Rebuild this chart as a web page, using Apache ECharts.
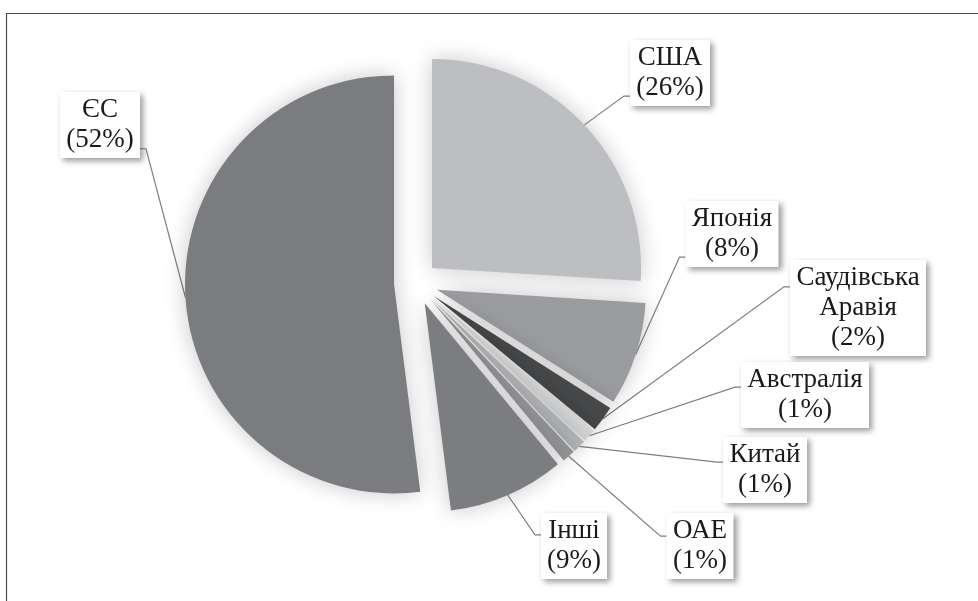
<!DOCTYPE html>
<html>
<head>
<meta charset="utf-8">
<script src="https://cdn.jsdelivr.net/npm/echarts@6/dist/echarts.min.js"></script>
<style>
  html, body { margin: 0; padding: 0; background: #fff; }
  #chart { width: 978px; height: 601px; }
</style>
</head>
<body>
<div id="chart"></div>
<script>
// дані
const names = ['США', 'Японія', 'Саудівська Аравія', 'Австралія', 'Китай', 'ОАЕ', 'Інші', 'ЄС']
const shares = [26, 8, 2, 1, 1, 1, 9, 52]
const colors = ['#bdbec1', '#9b9ca0', '#47484a', '#d6d7d9', '#b2b3b5', '#909194', '#7c7d81', '#7b7c80']

// центри підписів і точка кріплення лінії (частка висоти рамки)
const labelPos = [
  [670, 73], [732, 234], [858, 308], [805, 395],
  [765, 470], [700, 546], [574, 546], [100, 125]
]
const lineAttach = [0.85, 0.85, 0.28, 0.38, 0.38, 0.35, 0.33, 0.86]

const FONT_CSS = '27px "Liberation Serif"'
const cx = 416, cy = 283, R = 209, explode = 22
const total = shares.reduce((a, b) => a + b, 0)

function labelText(i) {
  const pct = Math.round(shares[i] / total * 100)
  return names[i].replace(' ', '\n') + '\n(' + pct + '%)'
}

// ширина тексту підпису шрифтом із засічками
const ctx = document.createElement('canvas').getContext('2d')
ctx.font = FONT_CSS
const textW = names.map((n, i) => Math.max(...labelText(i).split('\n').map((s) => ctx.measureText(s).width)))

const chart = echarts.init(document.getElementById('chart'))

// кожен сектор — окрема серія, щоб винести його від центру
let cum = 0
const series = shares.map((v, k) => {
  const mid = (90 - (cum + v / 2) / total * 360) * Math.PI / 180
  cum += v
  return {
    type: 'pie',
    center: [cx + explode * Math.cos(mid), cy - explode * Math.sin(mid)],
    radius: [0, R],
    startAngle: 90,
    clockwise: true,
    avoidLabelOverlap: false,
    emphasis: { disabled: true },
    silent: true,
    label: {
      show: true,
      position: 'outside',
      formatter: (p) => labelText(p.dataIndex),
      fontSize: 27,
      lineHeight: 30,
      color: 'rgba(0,0,0,0)',
      align: 'center',
      backgroundColor: '#fff',
      padding: [3, 6],
      shadowColor: 'rgba(0,0,0,0.4)',
      shadowBlur: 6,
      shadowOffsetX: 3,
      shadowOffsetY: 3
    },
    labelLine: {
      show: true,
      length: 10,
      length2: 10,
      lineStyle: { color: '#7f7f7f', width: 1.2 }
    },
    labelLayout: (params) => {
      const i = params.dataIndex
      const pos = labelPos[i]
      const out = { x: pos[0], y: pos[1], align: 'center', verticalAlign: 'middle' }
      const pts = params.labelLinePoints
      if (pts && pts[0]) {
        const w = params.labelRect.width
        const h = params.labelRect.height
        const left = pos[0] < cx
        const ex = left ? pos[0] + w / 2 : pos[0] - w / 2
        const ey = pos[1] - h / 2 + h * lineAttach[i]
        out.labelLinePoints = [pts[0], [left ? ex + 6 : ex - 6, ey], [ex, ey]]
      }
      return out
    },
    data: names.map((n, i) => i === k ? {
      name: n,
      value: shares[i],
      label: { width: Math.ceil(textW[i]) },
      itemStyle: { color: colors[i], shadowBlur: 22, shadowColor: 'rgba(0,0,0,0.22)' }
    } : {
      name: n,
      value: shares[i],
      itemStyle: { color: 'rgba(0,0,0,0)' },
      label: { show: false },
      labelLine: { show: false }
    })
  }
})

// видимий текст підписів (шрифт із засічками)
const labelTexts = names.map((n, i) => ({
  type: 'text',
  x: labelPos[i][0],
  y: labelPos[i][1],
  z: 50,
  silent: true,
  style: {
    text: labelText(i),
    font: FONT_CSS,
    lineHeight: 30,
    fill: '#1a1a1a',
    textAlign: 'center',
    textVerticalAlign: 'middle'
  }
}))

const option = {
  animation: false,
  backgroundColor: '#fff',
  graphic: [
    {
      type: 'rect',
      shape: { x: 6.5, y: 13.5, width: 1100, height: 800 },
      style: { fill: 'none', stroke: '#4d4d4d', lineWidth: 1.2 },
      silent: true,
      z: -1
    }
  ].concat(labelTexts),
  series: series
}

chart.setOption(option)
</script>
</body>
</html>
